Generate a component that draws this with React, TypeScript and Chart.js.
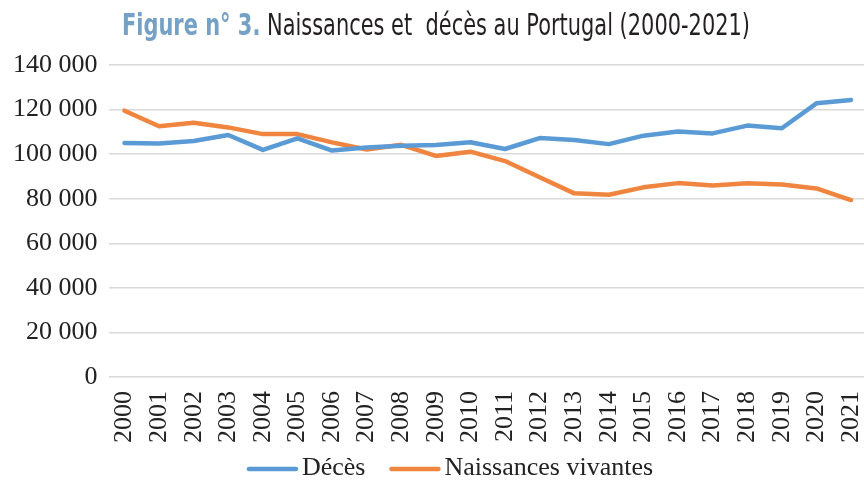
import React, { useEffect, useRef } from "react";
import { Chart, registerables } from "chart.js";

Chart.register(...registerables);

const years = ["2000", "2001", "2002", "2003", "2004", "2005", "2006", "2007", "2008", "2009", "2010", "2011", "2012", "2013", "2014", "2015", "2016", "2017", "2018", "2019", "2020", "2021"];
const deces = [105000, 104800, 105900, 108600, 101900, 107100, 101600, 103000, 103800, 104100, 105300, 102300, 107200, 106300, 104500, 108300, 110200, 109300, 112800, 111600, 122800, 124300];
const naissances = [119500, 112500, 114100, 112000, 109000, 109000, 105300, 102100, 104200, 99200, 101100, 96900, 89600, 82400, 81800, 85100, 87000, 85900, 86900, 86400, 84600, 79400];
const yTicks = [0, 20000, 40000, 60000, 80000, 100000, 120000, 140000];
const seriesLabels = ["Décès", "Naissances vivantes"];
const titleBold = "Figure n° 3.";
const titleRest = " Naissances et  décès au Portugal (2000-2021)";

const BLUE = "#5B9BD5";
const ORANGE = "#F0853F";
const SERIF = "'Liberation Serif', 'Times New Roman', serif";
const COND = "'Liberation Sans Narrow', 'DejaVu Sans Condensed', 'Roboto', sans-serif";

const fmt = (v: number) => String(v).replace(/\B(?=(\d{3})+(?!\d))/g, " ");

const titlePlugin = {
  id: "mixedTitle",
  afterDraw(chart: any) {
    const ctx = chart.ctx as CanvasRenderingContext2D;
    ctx.save();
    const size = 30;
    const bold = `bold ${size}px ${COND}`;
    const reg = `${size}px ${COND}`;
    ctx.font = bold;
    const w1 = ctx.measureText(titleBold).width;
    ctx.font = reg;
    const w2 = ctx.measureText(titleRest).width;
    const sx = 628 / (w1 + w2);
    ctx.translate(122, 35);
    ctx.scale(sx, 1);
    ctx.textAlign = "left";
    ctx.textBaseline = "alphabetic";
    ctx.font = bold;
    ctx.fillStyle = "#76A1C6";
    ctx.fillText(titleBold, 0, 0);
    ctx.font = reg;
    ctx.fillStyle = "#231F20";
    ctx.fillText(titleRest, w1, 0);
    ctx.restore();
  },
};

const legendPlugin = {
  id: "bottomLegend",
  afterDraw(chart: any) {
    const ctx = chart.ctx as CanvasRenderingContext2D;
    const ds = chart.data.datasets;
    ctx.save();
    ctx.font = `26px ${SERIF}`;
    const lineW = 51;
    const textGap = 4;
    const itemGap = 24;
    const widths = ds.map((d: any) => lineW + textGap + ctx.measureText(d.label).width);
    const total = widths.reduce((a: number, b: number) => a + b, 0) + itemGap * (ds.length - 1);
    let x = 450 - total / 2;
    const y = 468;
    ds.forEach((d: any, i: number) => {
      ctx.strokeStyle = d.borderColor;
      ctx.lineWidth = 4.5;
      ctx.lineCap = "round";
      ctx.beginPath();
      ctx.moveTo(x + 2, y + 1);
      ctx.lineTo(x + lineW - 2, y + 1);
      ctx.stroke();
      ctx.fillStyle = "#222";
      ctx.textAlign = "left";
      ctx.textBaseline = "middle";
      ctx.fillText(d.label, x + lineW + textGap, y);
      x += widths[i] + itemGap;
    });
    ctx.restore();
  },
};

export default function App() {
  const ref = useRef<HTMLCanvasElement>(null);
  useEffect(() => {
    document.body.style.margin = "0";
    if (!ref.current) return;
    const chart = new Chart(ref.current, {
      type: "line",
      data: {
        datasets: [
          {
            label: seriesLabels[0],
            data: deces.map((v, i) => ({ x: i, y: v })),
            borderColor: BLUE,
            backgroundColor: BLUE,
            borderWidth: 4.5,
            pointRadius: 0,
            borderCapStyle: "round",
            borderJoinStyle: "round",
            tension: 0,
          },
          {
            label: seriesLabels[1],
            data: naissances.map((v, i) => ({ x: i, y: v })),
            borderColor: ORANGE,
            backgroundColor: ORANGE,
            borderWidth: 4.5,
            pointRadius: 0,
            borderCapStyle: "round",
            borderJoinStyle: "round",
            tension: 0,
          },
        ],
      },
      options: {
        animation: false,
        responsive: true,
        maintainAspectRatio: false,
        layout: { padding: { top: 65, left: 2, right: 0, bottom: 24 } },
        scales: {
          x: {
            type: "linear",
            min: -0.462,
            max: 21.375,
            afterBuildTicks: (s: any) => {
              s.ticks = years.map((_, i) => ({ value: i }));
            },
            afterFit: (s: any) => {
              s.paddingLeft = 0;
              s.paddingRight = 0;
            },
            grid: { display: false, drawTicks: false },
            border: { display: false },
            ticks: {
              autoSkip: false,
              maxRotation: 90,
              minRotation: 90,
              padding: 14,
              color: "#222",
              font: { family: SERIF, size: 26 },
              callback: (v: any) => years[v as number] ?? "",
            },
          },
          y: {
            min: 0,
            max: 140000,
            afterBuildTicks: (s: any) => {
              s.ticks = yTicks.map((v) => ({ value: v }));
            },
            grid: { color: "#D9D9D9", lineWidth: 1.5, drawTicks: false },
            border: { display: false },
            ticks: {
              padding: 11,
              color: "#222",
              font: { family: SERIF, size: 26 },
              callback: (v: any) => fmt(v as number),
            },
          },
        },
        plugins: {
          title: { display: false },
          tooltip: { enabled: false },
          legend: { display: false },
        },
      },
      plugins: [titlePlugin, legendPlugin],
    } as any);
    return () => chart.destroy();
  }, []);
  return (
    <div style={{ width: 864, height: 481, position: "relative" }}>
      <canvas ref={ref} />
    </div>
  );
}
